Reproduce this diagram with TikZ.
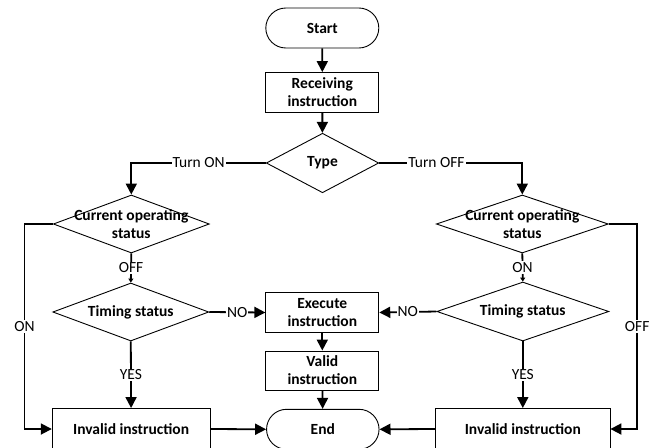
\documentclass[tikz,border=0pt]{standalone}
\usepackage{fontspec}
\setmainfont{Carlito}
\usetikzlibrary{arrows.meta,shapes.geometric,shapes.misc}
\begin{document}
\begin{tikzpicture}[x=1pt,y=-1pt,
  font=\fontsize{15.5}{18}\selectfont,
  box/.style={draw, line width=0.9pt, rectangle, inner sep=0pt, align=center, font=\fontsize{15.5}{18}\selectfont\bfseries},
  term/.style={box, rounded rectangle},
  dia/.style={draw, line width=0.9pt, diamond, inner sep=0pt},
  dtext/.style={align=center, font=\fontsize{15.5}{18}\selectfont\bfseries, inner sep=0pt},
  conn/.style={line width=1.8pt, -{Triangle[length=11pt,width=11pt]}},
  smallarr/.style={line width=1.8pt, -{Triangle[length=4pt,width=5pt]}},
  plain/.style={line width=1.8pt},
  lab/.style={fill=white, inner sep=1pt, font=\fontsize{15.5}{18}\selectfont},
]
\useasboundingbox (0,0) rectangle (660,447);
\clip (0,0) rectangle (660,447);

% nodes
\node[term, minimum width=113pt, minimum height=40pt] (start) at (322.3,28) {Start};
\node[box, minimum width=113pt, minimum height=39.5pt] (recv) at (322.3,92.3) {Receiving\\instruction};
\node[dia, minimum width=112.5pt, minimum height=59.5pt,
      label={[dtext]center:Type}] (type) at (322.5,163) {};
\node[dia, minimum width=156pt, minimum height=58pt,
      label={[dtext]center:{Current operating\\status}}] (cosL) at (131.3,224) {};
\node[dia, minimum width=172pt, minimum height=58pt,
      label={[dtext]center:{Current operating\\status}}] (cosR) at (522.3,224) {};
\node[dia, minimum width=156pt, minimum height=58pt,
      label={[dtext]center:Timing status}] (tsL) at (130.8,312) {};
\node[dia, minimum width=172pt, minimum height=59pt,
      label={[dtext]center:Timing status}] (tsR) at (522.8,311.5) {};
\node[box, minimum width=113pt, minimum height=39.5pt] (exec) at (322.3,312.5) {Execute\\instruction};
\node[box, minimum width=113pt, minimum height=39pt] (valid) at (322.3,370.5) {Valid\\instruction};
\node[term, minimum width=112.5pt, minimum height=40pt] (end) at (322.8,429.3) {End};
\node[box, minimum width=157.7pt, minimum height=41pt] (invL) at (131.1,429) {Invalid instruction};
\node[box, minimum width=174.3pt, minimum height=41pt] (invR) at (522.8,429) {Invalid instruction};

% connectors
\draw[conn] (start) -- (recv);
\draw[conn] (recv) -- (type);
\draw[conn] (type.west) -| node[lab, pos=0.25] {Turn ON} (cosL.north);
\draw[conn] (type.east) -| node[lab, pos=0.2] {Turn OFF} (cosR.north);
\draw[smallarr] (cosL.south) -- node[lab] {OFF} (tsL.north);
\draw[smallarr] (cosR.south) -- node[lab] {ON} (tsR.north);
\draw[conn] (cosL.west) -- ++(-28.3,0) |- node[lab, pos=0.25] {ON} (invL.west);
\draw[conn] (cosR.east) -- ++(28.4,0) |- node[lab, pos=0.25] {OFF} (invR.east);
\draw[conn] (tsL.east) -- node[lab] {NO} (exec.west);
\draw[conn] (tsR.west) -- node[lab] {NO} (exec.east);
\draw[conn] (tsL.south) -- node[lab] {YES} (invL.north);
\draw[conn] (tsR.south) -- node[lab] {YES} (invR.north);
\draw[conn] (exec) -- (valid);
\draw[conn] (valid) -- (end);
\draw[conn] (invL.east) -- (end.west);
\draw[conn] (invR.west) -- (end.east);
\end{tikzpicture}
\end{document}
